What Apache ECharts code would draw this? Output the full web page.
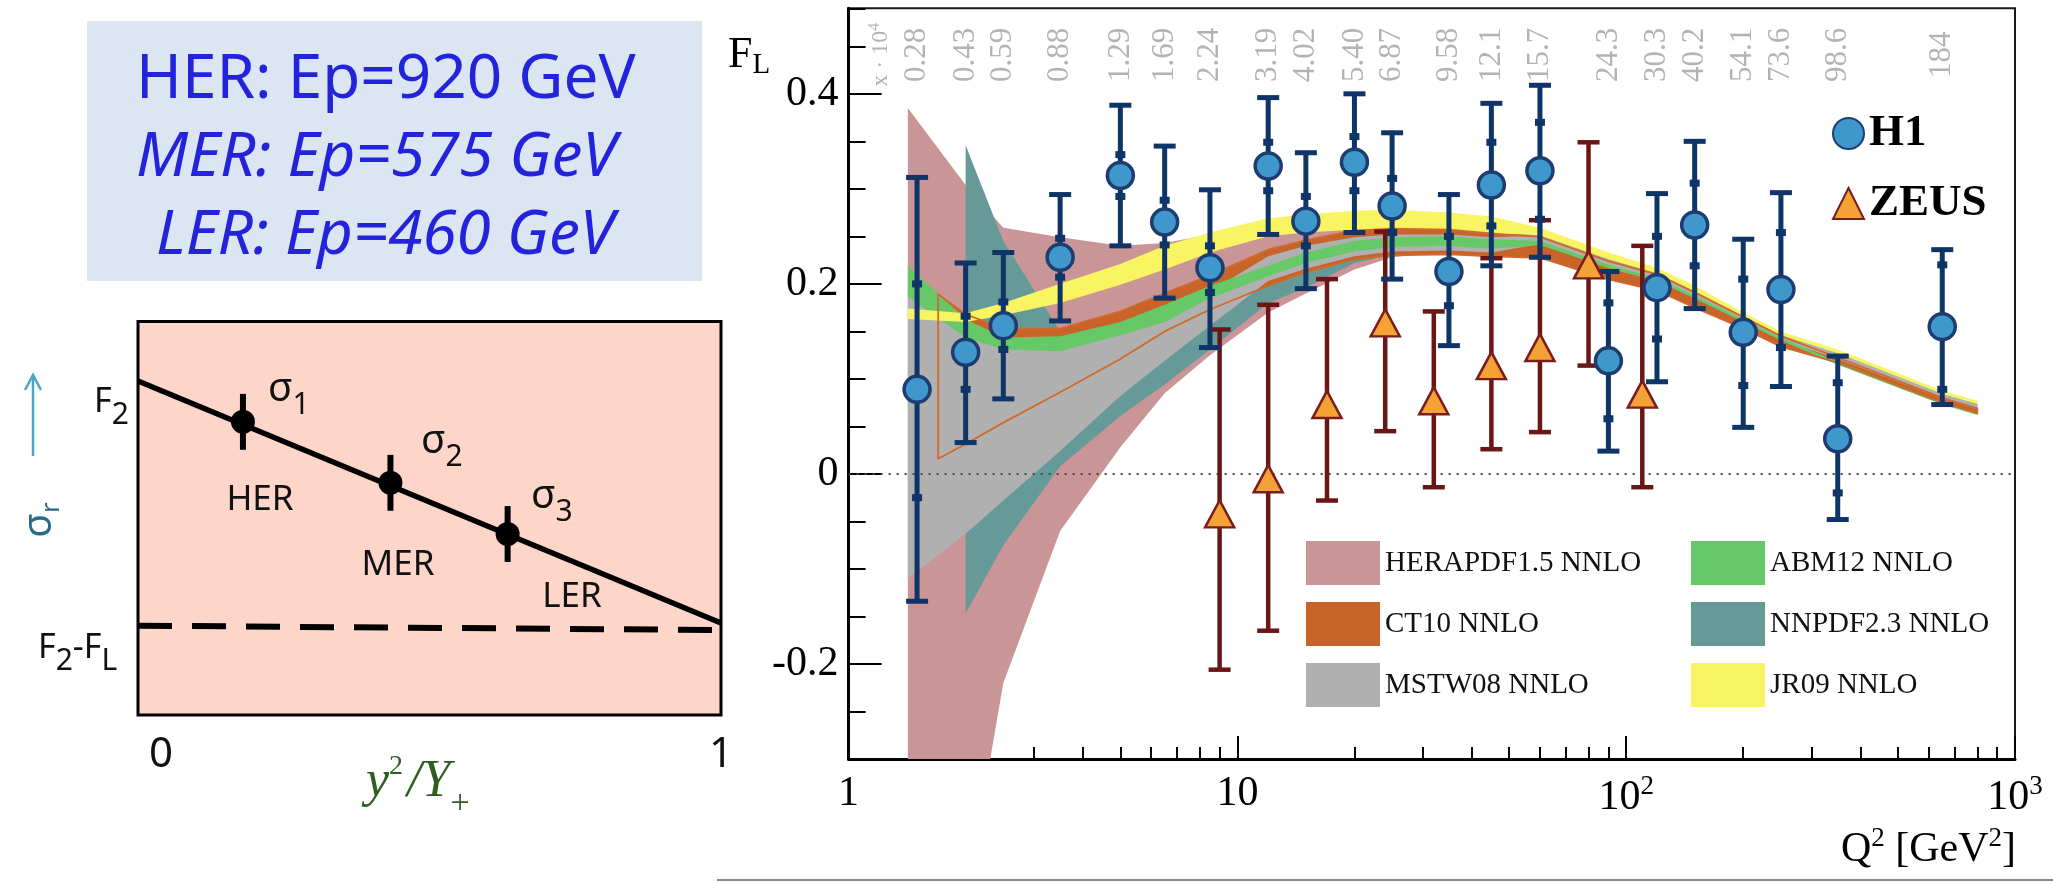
<!DOCTYPE html>
<html><head><meta charset="utf-8">
<script src="https://cdn.jsdelivr.net/npm/echarts@6/dist/echarts.min.js"></script>
<style>html,body{margin:0;padding:0;background:#fff}#c{width:2053px;height:882px}</style>
</head><body><div id="c"></div>
<script>
// ================= DATA =================
// H1 measurements
const h1Q2      = [1.5, 2.0, 2.5, 3.5, 5, 6.5, 8.5, 12, 15, 20, 25, 35, 45, 60, 90, 120, 150, 200, 250, 350, 650];
const h1FL      = [0.089,0.128,0.156,0.228,0.314,0.265,0.217,0.324,0.266,0.328,0.282,0.213,0.304,0.319,0.119,0.196,0.262,0.149,0.194,0.037,0.155];
const h1TotLo   = [-0.134,0.033,0.079,0.161,0.240,0.185,0.133,0.252,0.195,0.254,0.205,0.135,0.219,0.228,0.024,0.097,0.174,0.049,0.092,-0.048,0.073];
const h1TotHi   = [0.312,0.222,0.233,0.294,0.388,0.345,0.299,0.396,0.338,0.400,0.359,0.294,0.390,0.409,0.213,0.295,0.350,0.247,0.296,0.124,0.236];
const h1StatLo  = [-0.025,0.089,0.131,0.207,0.292,0.241,0.191,0.298,0.240,0.298,0.254,0.177,0.261,0.268,0.058,0.142,0.219,0.093,0.133,-0.020,0.089];
const h1StatHi  = [0.200,0.166,0.181,0.248,0.336,0.288,0.240,0.349,0.292,0.355,0.311,0.250,0.349,0.370,0.180,0.250,0.306,0.205,0.254,0.096,0.220];
// x * 10^4 labels on top of the plot (one per H1 bin)
const xTopLabels = ['0.28','0.43','0.59','0.88','1.29','1.69','2.24','3.19','4.02','5.40','6.87','9.58','12.1','15.7','24.3','30.3','40.2','54.1','73.6','98.6','184'];
const xTopTitle = '{s|x · 10}{sup|4}';
const xTopTitleQ2 = 1.21;
const xTopRowY = 0.441;
// ZEUS measurements
const zeusQ2 = [9, 12, 17, 24, 32, 45, 60, 80, 110];
const zeusFL = [-0.042,-0.005,0.073,0.159,0.077,0.114,0.133,0.220,0.084];
const zeusLo = [-0.206,-0.165,-0.028,0.045,-0.014,0.026,0.044,0.114,-0.014];
const zeusHi = [0.152,0.178,0.205,0.255,0.171,0.227,0.267,0.349,0.240];
// Theory bands
const bandQ2 = [1.42,2,2.5,3.5,5,6.5,8.5,12,15,20,25,35,45,60,90,120,150,200,250,350,650,800];
const heraLo = [-0.55,-0.45,-0.22,-0.06,0.028,0.085,0.125,0.170,0.190,0.215,0.228,0.234,0.233,0.237,0.213,0.200,0.182,0.158,0.139,0.119,0.077,0.066];
const heraHi = [0.385,0.304,0.259,0.249,0.240,0.243,0.252,0.252,0.256,0.258,0.258,0.256,0.253,0.251,0.226,0.211,0.192,0.166,0.146,0.127,0.084,0.073];
const jrLo   = [0.163,0.160,0.167,0.180,0.199,0.215,0.233,0.250,0.254,0.257,0.258,0.257,0.254,0.251,0.226,0.211,0.192,0.166,0.146,0.127,0.084,0.0735];
const jrHi   = [0.174,0.169,0.180,0.200,0.221,0.240,0.254,0.269,0.273,0.277,0.278,0.275,0.271,0.259,0.233,0.217,0.198,0.170,0.150,0.131,0.0875,0.077];
const abmLo  = [0.187,0.1435,0.131,0.129,0.146,0.160,0.185,0.208,0.222,0.234,0.239,0.240,0.237,0.241,0.2165,0.203,0.1847,0.160,0.1405,0.115,0.073,0.062];
const abmHi  = [0.219,0.163,0.1435,0.145,0.160,0.178,0.198,0.219,0.233,0.245,0.249,0.250,0.247,0.245,0.220,0.206,0.1877,0.1625,0.143,0.118,0.0755,0.0645];
const mstwLo = [-0.110,-0.063,-0.028,0.024,0.082,0.119,0.156,0.203,0.216,0.229,0.234,0.235,0.233,0.242,0.217,0.204,0.185,0.1607,0.141,0.121,0.079,0.068];
const mstwHi = [0.190,0.150,0.140,0.140,0.150,0.170,0.192,0.229,0.240,0.249,0.252,0.252,0.249,0.251,0.226,0.211,0.192,0.166,0.146,0.127,0.084,0.0735];
const ct10Q2 = [1.7,2,2.5,3.5,5,6.5,8.5,12,15,20,25,35,45,60,90,120,150,200,250,350,650,800];
const ct10Lo = [0.016,0.0315,0.054,0.086,0.121,0.150,0.173,0.198,0.212,0.226,0.230,0.231,0.229,0.2275,0.2047,0.193,0.175,0.153,0.134,0.117,0.075,0.064];
const ct10Hi = [0.189,0.168,0.153,0.153,0.171,0.190,0.209,0.236,0.246,0.256,0.258,0.257,0.253,0.2495,0.224,0.210,0.191,0.165,0.145,0.1225,0.080,0.069];
const nnQ2   = [2,2.5,3.5,5,6.5,8.5,12,15,20,25,35,45,60,90,120,150,200,250,350,650,800];
const nnLo   = [-0.147,-0.075,0.008,0.061,0.094,0.131,0.180,0.196,0.222,0.231,0.233,0.231,0.240,0.216,0.2026,0.184,0.160,0.140,0.121,0.079,0.068];
const nnHi   = [0.346,0.245,0.150,0.155,0.172,0.195,0.228,0.238,0.250,0.253,0.253,0.251,0.253,0.227,0.212,0.193,0.1666,0.147,0.128,0.085,0.074];
// Axis ticks
const yMajorTicks = [-0.2, 0, 0.2, 0.4];
const xMajorTicks = [1, 10, 100, 1000];
const xMinorTicks = [2,3,4,5,6,7,8,9,20,30,40,50,60,70,80,90,200,300,400,500,600,700,800,900];
// Schematic (left) plot
const sketchLineX = [0, 1];
const sketchLineY = [0.849, 0.234];
const sketchDashY = [0.227, 0.216];
const sketchX = [0.18, 0.433, 0.634];
const sketchY = [0.745, 0.59, 0.46];
const sketchErr = 0.071;

// ================= CHART =================
const SERIF = '"Liberation Serif", "DejaVu Serif", serif';
const SANS = '"Noto Sans", "Open Sans", sans-serif';
const chart = echarts.init(document.getElementById('c'));

function band(name, q2, lo, hi, color, z, outline) {
  return {
    type: 'custom', name: name, xAxisIndex: 0, yAxisIndex: 0, z: z, clip: true, silent: true,
    itemStyle: { color: color },
    data: q2.map((q, i) => [q, lo[i], hi[i]]),
    renderItem: function (params, api) {
      if (params.dataIndex !== 0) return null;
      const up = q2.map((q, i) => api.coord([q, hi[i]]));
      const dn = q2.map((q, i) => api.coord([q, lo[i]])).reverse();
      return {
        type: 'polygon', shape: { points: up.concat(dn) },
        style: outline ? { fill: 'none', stroke: color, lineWidth: 1.8 } : { fill: color }
      };
    }
  };
}

function errBars(name, color, lw, capW, withStat, xi, yi, z, data) {
  return {
    type: 'custom', name: name, xAxisIndex: xi, yAxisIndex: yi, z: z, silent: true,
    data: data,
    encode: { x: 0, y: [1, 2] },
    renderItem: function (params, api) {
      const q = api.value(0);
      const a = api.coord([q, api.value(1)]);
      const b = api.coord([q, api.value(2)]);
      const st = { stroke: color, lineWidth: lw };
      const ch = [{ type: 'line', shape: { x1: a[0], y1: a[1], x2: b[0], y2: b[1] }, style: st }];
      if (capW > 0) {
        ch.push({ type: 'line', shape: { x1: b[0] - capW / 2, y1: b[1], x2: b[0] + capW / 2, y2: b[1] }, style: st });
        ch.push({ type: 'line', shape: { x1: a[0] - capW / 2, y1: a[1], x2: a[0] + capW / 2, y2: a[1] }, style: st });
      }
      if (withStat) {
        [3, 4].forEach(k => {
          const p = api.coord([q, api.value(k)]);
          ch.push({ type: 'rect', shape: { x: p[0] - 5, y: p[1] - 3.5, width: 10, height: 7 }, style: { fill: color } });
        });
      }
      return { type: 'group', children: ch };
    }
  };
}

const H1_BAR = '#0e3468', ZEUS_BAR = '#6b1515';
const topLabelTexts = xTopLabels.concat([xTopTitle]);
const topLabelQ2 = h1Q2.concat([xTopTitleQ2]);

const zeusErr = errBars('ZEUS err', ZEUS_BAR, 4.5, 22, false, 0, 0, 9,
  zeusQ2.map((q, i) => [q, zeusLo[i], zeusHi[i]]));
zeusErr.markLine = {
  silent: true, symbol: 'none', label: { show: false }, animation: false,
  lineStyle: { color: '#444', width: 2, type: [2, 6] },
  data: [{ yAxis: 0 }]
};

const series = [
  band('HERAPDF1.5 NNLO', bandQ2, heraLo, heraHi, '#c99597', 1),
  band('NNPDF2.3 NNLO', nnQ2, nnLo, nnHi, '#659a98', 2),
  band('CT10 NNLO', ct10Q2, ct10Lo, ct10Hi, '#c8642a', 3),
  band('MSTW08 NNLO', bandQ2, mstwLo, mstwHi, '#b0b0b0', 4),
  band('ABM12 NNLO', bandQ2, abmLo, abmHi, '#66c866', 5),
  band('JR09 NNLO', bandQ2, jrLo, jrHi, '#f9f462', 6),
  band('CT10 outline', ct10Q2, ct10Lo, ct10Hi, '#d0692c', 7, true),
  zeusErr,
  errBars('H1 err', H1_BAR, 5, 22, true, 0, 0, 10,
    h1Q2.map((q, i) => [q, h1TotLo[i], h1TotHi[i], h1StatLo[i], h1StatHi[i]])),
  {
    type: 'scatter', name: 'ZEUS', xAxisIndex: 0, yAxisIndex: 0, z: 11,
    symbol: 'triangle', symbolSize: [29, 27],
    itemStyle: { color: '#f4a236', borderColor: '#7b1c1c', borderWidth: 2.5, opacity: 1 },
    data: zeusQ2.map((q, i) => [q, zeusFL[i]])
  },
  {
    type: 'scatter', name: 'H1', xAxisIndex: 0, yAxisIndex: 0, z: 12,
    symbol: 'circle', symbolSize: 26,
    itemStyle: { color: '#3f97cb', borderColor: '#1d3d70', borderWidth: 3.5, opacity: 1 },
    data: h1Q2.map((q, i) => [q, h1FL[i]])
  },
  {
    type: 'scatter', name: 'xlabels', xAxisIndex: 0, yAxisIndex: 0, z: 13, silent: true,
    symbolSize: 1, itemStyle: { color: 'transparent' },
    label: {
      show: true, position: 'inside', rotate: 90, align: 'center', verticalAlign: 'middle',
      color: '#a0a0a0', fontFamily: SERIF, fontSize: 31,
      formatter: p => topLabelTexts[p.dataIndex],
      rich: {
        s: { fontSize: 24, fontFamily: SERIF, color: '#a0a0a0' },
        sup: { fontSize: 16, fontFamily: SERIF, color: '#a0a0a0', padding: [0, 0, 12, 0] }
      }
    },
    data: topLabelQ2.map(q => [q, xTopRowY])
  },
  // schematic plot
  {
    type: 'line', name: 'sk-line', xAxisIndex: 2, yAxisIndex: 2, symbol: 'none', silent: true, z: 3,
    lineStyle: { color: '#000', width: 5.5 },
    data: sketchLineX.map((x, i) => [x, sketchLineY[i]])
  },
  {
    type: 'line', name: 'sk-dash', xAxisIndex: 2, yAxisIndex: 2, symbol: 'none', silent: true, z: 3,
    lineStyle: { color: '#000', width: 6, type: [34, 20] },
    data: sketchLineX.map((x, i) => [x, sketchDashY[i]])
  },
  errBars('sk-err', '#000', 6, 0, false, 2, 2, 4,
    sketchX.map((x, i) => [x, sketchY[i] - sketchErr, sketchY[i] + sketchErr])),
  {
    type: 'scatter', name: 'sk-pts', xAxisIndex: 2, yAxisIndex: 2, z: 5, silent: true,
    symbolSize: 24, itemStyle: { color: '#000', opacity: 1 },
    data: sketchX.map((x, i) => [x, sketchY[i]])
  }
];

const legendText = { fontFamily: SERIF, fontSize: 29, color: '#111' };

const option = {
  animation: false,
  backgroundColor: '#fff',
  textStyle: { fontFamily: SERIF },
  grid: [
    { left: 848.6, top: 8.3, width: 1166.4, height: 750.7, show: true, borderColor: '#1a1a1a', borderWidth: 2, backgroundColor: 'transparent' },
    { left: 138, top: 321.5, width: 583, height: 393.5, show: true, borderColor: '#000', borderWidth: 3, backgroundColor: '#fdd5c9' }
  ],
  xAxis: [
    {
      type: 'log', logBase: 10, gridIndex: 0, min: 1, max: 1000, position: 'bottom',
      axisLine: { show: true, onZero: false, lineStyle: { color: '#000', width: 3 } },
      axisTick: { show: true, inside: true, length: 23, customValues: xMajorTicks, lineStyle: { color: '#000', width: 2 } },
      splitLine: { show: false }, minorTick: { show: false },
      axisLabel: {
        show: true, customValues: xMajorTicks, margin: 14, color: '#000', fontFamily: SERIF, fontSize: 42,
        formatter: v => (v <= 1.0001 ? '1' : (Math.abs(v - 10) < 0.01 ? '10' : '10{sup|' + Math.round(Math.log10(v)) + '}')),
        rich: { sup: { fontSize: 27, fontFamily: SERIF, color: '#000', padding: [0, 0, 22, 0] } }
      }
    },
    {
      type: 'log', logBase: 10, gridIndex: 0, min: 1, max: 1000, position: 'bottom',
      axisLine: { show: false, onZero: false }, axisLabel: { show: false }, splitLine: { show: false },
      axisTick: { show: true, inside: true, length: 12, customValues: xMinorTicks, lineStyle: { color: '#000', width: 2 } }
    },
    {
      type: 'value', gridIndex: 1, min: 0, max: 1,
      axisLine: { show: false, onZero: false }, axisTick: { show: false }, splitLine: { show: false },
      axisLabel: {
        show: true, customValues: [0, 1], margin: 19, color: '#111', fontFamily: SANS, fontSize: 42,
        alignMinLabel: 'left',
        formatter: v => (v === 0 ? ' 0' : '1')
      }
    }
  ],
  yAxis: [
    {
      type: 'value', gridIndex: 0, min: -0.3, max: 0.49, position: 'left',
      axisLine: { show: true, onZero: false, lineStyle: { color: '#000', width: 3 } },
      axisTick: { show: true, inside: true, length: 33, customValues: yMajorTicks, lineStyle: { color: '#000', width: 2 } },
      splitLine: { show: false },
      axisLabel: {
        show: true, customValues: yMajorTicks, margin: 10, color: '#000', fontFamily: SERIF, fontSize: 42,
        formatter: v => (Math.abs(v) < 1e-9 ? '0' : v.toFixed(1))
      }
    },
    {
      type: 'value', gridIndex: 0, min: -0.3, max: 0.49, interval: 0.05, position: 'left',
      axisLine: { show: false, onZero: false }, axisLabel: { show: false }, splitLine: { show: false },
      axisTick: { show: true, inside: true, length: 17, lineStyle: { color: '#000', width: 2 } }
    },
    {
      type: 'value', gridIndex: 1, min: 0, max: 1,
      axisLine: { show: false, onZero: false }, axisTick: { show: false }, splitLine: { show: false }, axisLabel: { show: false }
    }
  ],
  legend: [
    {
      data: ['HERAPDF1.5 NNLO', 'CT10 NNLO', 'MSTW08 NNLO'], orient: 'vertical', left: 1301, top: 536,
      itemWidth: 74, itemHeight: 44, itemGap: 17, itemTextGap: 14, icon: 'rect', selectedMode: false,
      textStyle: legendText
    },
    {
      data: ['ABM12 NNLO', 'NNPDF2.3 NNLO', 'JR09 NNLO'], orient: 'vertical', left: 1686, top: 536,
      itemWidth: 74, itemHeight: 44, itemGap: 17, itemTextGap: 12, icon: 'rect', selectedMode: false,
      textStyle: legendText
    },
    {
      data: ['H1', 'ZEUS'], orient: 'vertical', left: 1827, top: 106,
      itemWidth: 31, itemHeight: 31, itemGap: 25, itemTextGap: 16, selectedMode: false,
      textStyle: { fontFamily: SERIF, fontSize: 45, fontWeight: 'bold', color: '#000', lineHeight: 44 }
    }
  ],
  graphic: [
    // top-left info box
    { type: 'rect', shape: { x: 87, y: 21, width: 615, height: 260 }, style: { fill: '#dce6f2' }, z: 0 },
    { type: 'text', x: 136, y: 80, style: { text: 'HER: Ep=920 GeV', fill: '#2323dc', fontFamily: SANS, fontSize: 62, verticalAlign: 'middle', align: 'left' } },
    { type: 'text', x: 136, y: 158, style: { text: 'MER: Ep=575 GeV', fill: '#2323dc', fontFamily: SANS, fontSize: 62, fontStyle: 'italic', verticalAlign: 'middle', align: 'left' } },
    { type: 'text', x: 156, y: 236, style: { text: 'LER: Ep=460 GeV', fill: '#2323dc', fontFamily: SANS, fontSize: 62, fontStyle: 'italic', verticalAlign: 'middle', align: 'left' } },
    // sigma_r arrow
    { type: 'line', shape: { x1: 33, y1: 456, x2: 33, y2: 376 }, style: { stroke: '#4aa6c4', lineWidth: 2.5 } },
    { type: 'polyline', shape: { points: [[25, 390], [33, 375], [41, 390]] }, style: { stroke: '#4aa6c4', lineWidth: 2.5, fill: 'none' } },
    { type: 'text', x: 40, y: 520, rotation: Math.PI / 2, style: { text: 'σ{s|r}', fill: '#2a6a86', fontFamily: SANS, fontSize: 40, align: 'center', verticalAlign: 'middle', rich: { s: { fontSize: 26, fill: '#2a6a86', fontFamily: SANS, padding: [24, 0, 0, 0] } } } },
    // sketch labels
    { type: 'text', x: 94, y: 402, style: { text: 'F{s|2}', fill: '#111', fontFamily: SANS, fontSize: 34, verticalAlign: 'middle', rich: { s: { fontSize: 30, fontFamily: SANS, fill: '#111', padding: [26, 0, 0, 0] } } } },
    { type: 'text', x: 38, y: 648, style: { text: 'F{s|2}-F{s|L}', fill: '#111', fontFamily: SANS, fontSize: 34, verticalAlign: 'middle', rich: { s: { fontSize: 30, fontFamily: SANS, fill: '#111', padding: [26, 0, 0, 0] } } } },
    { type: 'text', x: 268, y: 390, style: { text: 'σ{s|1}', fill: '#111', fontFamily: SANS, fontSize: 40, verticalAlign: 'middle', rich: { s: { fontSize: 30, fontFamily: SANS, fill: '#111', padding: [30, 0, 0, 0] } } } },
    { type: 'text', x: 421, y: 442, style: { text: 'σ{s|2}', fill: '#111', fontFamily: SANS, fontSize: 40, verticalAlign: 'middle', rich: { s: { fontSize: 30, fontFamily: SANS, fill: '#111', padding: [30, 0, 0, 0] } } } },
    { type: 'text', x: 531, y: 497, style: { text: 'σ{s|3}', fill: '#111', fontFamily: SANS, fontSize: 40, verticalAlign: 'middle', rich: { s: { fontSize: 30, fontFamily: SANS, fill: '#111', padding: [30, 0, 0, 0] } } } },
    { type: 'text', x: 260, y: 500, style: { text: 'HER', fill: '#111', fontFamily: SANS, fontSize: 35, align: 'center', verticalAlign: 'middle' } },
    { type: 'text', x: 398, y: 565, style: { text: 'MER', fill: '#111', fontFamily: SANS, fontSize: 35, align: 'center', verticalAlign: 'middle' } },
    { type: 'text', x: 572, y: 597, style: { text: 'LER', fill: '#111', fontFamily: SANS, fontSize: 35, align: 'center', verticalAlign: 'middle' } },
    { type: 'text', x: 366, y: 782, style: { text: 'y{sup|2}/Y{sub|+}', fill: '#2f5e22', fontFamily: SERIF, fontSize: 52, fontStyle: 'italic', verticalAlign: 'middle', rich: { sup: { fontSize: 28, fontFamily: SERIF, fontStyle: 'normal', fill: '#2f5e22', padding: [0, 4, 30, 0] }, sub: { fontSize: 34, fontFamily: SERIF, fontStyle: 'normal', fill: '#2f5e22', padding: [44, 0, 0, 0] } } } },
    // right plot axis titles
    { type: 'text', x: 728, y: 55, style: { text: 'F{s|L}', fill: '#000', fontFamily: SERIF, fontSize: 44, verticalAlign: 'middle', rich: { s: { fontSize: 29, fontFamily: SERIF, fill: '#000', padding: [20, 0, 0, 0] } } } },
    { type: 'text', x: 2016, y: 850, style: { text: 'Q{sup|2} [GeV{sup|2}]', fill: '#000', fontFamily: SERIF, fontSize: 42, align: 'right', verticalAlign: 'middle', rich: { sup: { fontSize: 27, fontFamily: SERIF, fill: '#000', padding: [0, 0, 22, 0] } } } },
    // bottom rule
    { type: 'line', shape: { x1: 717, y1: 880, x2: 2053, y2: 880 }, style: { stroke: '#8a8a8a', lineWidth: 2 } }
  ],
  series: series
};
chart.setOption(option);
</script>
</body></html>
